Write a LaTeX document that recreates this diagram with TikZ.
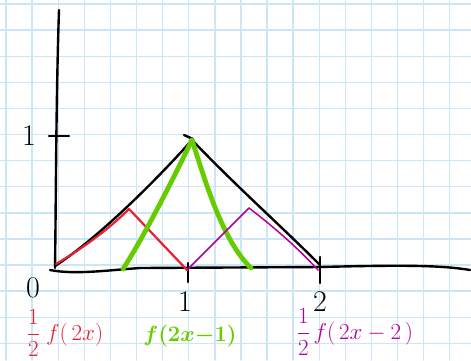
\RequirePackage{fix-cm}
\documentclass[tikz,border=0pt]{standalone}
\usepackage{amsmath}
\usepackage{xcolor}
\usepackage{tikz}
\definecolor{gridblue}{RGB}{204,230,248}
\definecolor{redpen}{RGB}{232,32,47}
\definecolor{greenpen}{RGB}{102,204,0}
\definecolor{magpen}{RGB}{176,0,159}
\begin{document}
\begin{tikzpicture}[x=1pt, y=-1pt, line cap=round, line join=round,
    pen/.style={line width=2.4pt},
    num/.style={font=\fontsize{30}{32}\selectfont, inner sep=0pt},
    lab/.style={font=\fontsize{23}{25}\selectfont, inner sep=0pt}]

\useasboundingbox (0,0) rectangle (471,360);
\fill[white] (0,0) rectangle (471,360);

% Quadretti
\foreach \i in {0,...,17}
    \draw[gridblue, line width=1.4pt] ({6+26.1*\i},0) -- ({6+26.1*\i},360);
\foreach \j in {0,...,13}
    \draw[gridblue, line width=1.4pt] (0,{4+26.1*\j}) -- (471,{4+26.1*\j});

% Assi
\draw[pen] (59,10) .. controls (56,100) and (56,200) .. (55,268);
\draw[pen] (50,270) .. controls (75,275) and (110,270) .. (140,268)
    -- (320,267) .. controls (400,265) and (440,265) .. (470,270);

% Tacche
\draw[pen] (49,136) -- (69,136);
\draw[pen] (188,263) -- (188,282);
\draw[pen] (320,257) -- (320,283);

% Funzione f
\draw[pen] (55,266) .. controls (100,237) and (160,176) .. (192,140);
\draw[pen] (192,140) .. controls (235,185) and (280,225) .. (320,265);
\draw[pen] (184,135) -- (193,139);

% 1/2 f(2x)
\draw[redpen, line width=2.2pt] (56,264) .. controls (80,250) and (108,230) .. (129,209) -- (187,270);

% f(2x-1)
\draw[greenpen, line width=4.8pt] (123,269) .. controls (145,235) and (175,175) .. (192,140);
\draw[greenpen, line width=4.8pt] (192,140) .. controls (205,180) and (222,240) .. (251,268);

% 1/2 f(2x-2)
\draw[magpen, line width=1.5pt] (188,269) -- (249,208)
    .. controls (270,224) and (295,245) .. (318,270);

% Etichette
\node[num] (ylab) at (29,136) {1};
\node[num] (zero) at (33,288) {0};
\node[num] (xone) at (185,302) {1};
\node[num] (xtwo) at (320,302) {2};
\node[lab, redpen] (lred) at (65,333) {$\dfrac{1}{2}\;f(\,2x)$};
\node[lab, greenpen, font=\fontsize{22}{24}\selectfont] (lgreen) at (190,336) {$\boldsymbol{f(2x{-}1)}$};
\node[lab, magpen] (lmag) at (355,332) {$\dfrac{1}{2}\,f(\,2x-2\,)$};

\end{tikzpicture}
\end{document}
